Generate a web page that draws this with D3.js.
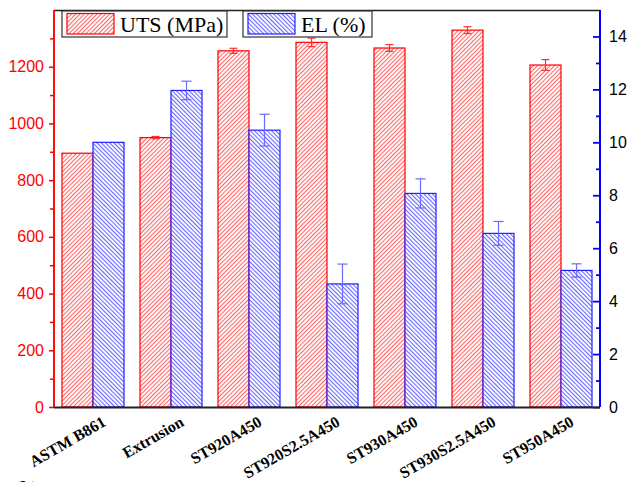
<!DOCTYPE html>
<html>
<head>
<meta charset="utf-8">
<script src="https://cdn.jsdelivr.net/npm/d3@7"></script>
<style>
  body { margin: 0; background: #fff; }
  svg { display: block; }
</style>
</head>
<body>
<div id="chart"></div>
<script>
'use strict'

var categories = ["ASTM B861", "Extrusion", "ST920A450", "ST920S2.5A450", "ST930A450", "ST930S2.5A450", "ST950A450"];
var uts = [895, 950, 1256, 1286, 1266, 1329, 1206];
var utsErr = [0, 4, 9, 15, 12, 12, 19];
var el = [10, 11.96, 10.46, 4.65, 8.07, 6.56, 5.16];
var elErr = [0, 0.35, 0.6, 0.75, 0.55, 0.45, 0.25];
var leftTicks = [0, 200, 400, 600, 800, 1000, 1200];
var rightTicks = [0, 2, 4, 6, 8, 10, 12, 14];

var width = 628, height = 482;
var plotLeft = 54, plotRight = 600, plotTop = 10, plotBottom = 407;

var svg = d3.select("#chart").append("svg").attr("width", width).attr("height", height);

// hatch patterns
var defs = svg.append("defs");
function hatch(id, color, angle) {
    var p = defs.append("pattern")
        .attr("id", id)
        .attr("patternUnits", "userSpaceOnUse")
        .attr("width", 3).attr("height", 10)
        .attr("patternTransform", "rotate(" + angle + ")");
    p.append("rect").attr("width", 3).attr("height", 10).attr("fill", "#fff");
    p.append("line").attr("x1", 0.6).attr("x2", 0.6).attr("y1", 0).attr("y2", 10)
        .attr("stroke", color).attr("stroke-width", 0.8);
}
hatch("hRed", "#ff3030", 45);
hatch("hBlue", "#3030ff", -45);

var x = d3.scaleBand().domain(categories).range([plotLeft, plotRight]).paddingInner(0.205).paddingOuter(0.1025);
var x1 = d3.scaleBand().domain([0, 1]).range([0, x.bandwidth()]);
var yL = d3.scaleLinear().domain([0, 1400]).range([plotBottom, plotTop]);
var yR = d3.scaleLinear().domain([0, 15]).range([plotBottom, plotTop]);

var series = [
    {vals: uts, errs: utsErr, y: yL, fill: "url(#hRed)", stroke: "#ff0000", err: "#ff3030"},
    {vals: el, errs: elErr, y: yR, fill: "url(#hBlue)", stroke: "#2020ff", err: "#6a6aff"}
];

series.forEach(function (s, si) {
    var g = svg.append("g");
    g.selectAll("rect").data(categories).enter().append("rect")
        .attr("x", function (d) { return x(d) + x1(si); })
        .attr("width", x1.bandwidth())
        .attr("y", function (d, i) { return s.y(s.vals[i]); })
        .attr("height", function (d, i) { return plotBottom - s.y(s.vals[i]); })
        .attr("fill", s.fill)
        .attr("stroke", s.stroke)
        .attr("stroke-width", 1.2);
});

// error bars
series.forEach(function (s, si) {
    var g = svg.append("g").attr("stroke", s.err).attr("stroke-width", 1.2).attr("fill", "none");
    categories.forEach(function (c, i) {
        if (!s.errs[i]) return;
        var cx = x(c) + x1(si) + x1.bandwidth() / 2;
        var y0 = s.y(s.vals[i] - s.errs[i]), y1 = s.y(s.vals[i] + s.errs[i]);
        var w = si === 0 ? 4 : 5;
        g.append("line").attr("x1", cx).attr("x2", cx).attr("y1", y0).attr("y2", y1);
        g.append("line").attr("x1", cx - w).attr("x2", cx + w).attr("y1", y0).attr("y2", y0);
        g.append("line").attr("x1", cx - w).attr("x2", cx + w).attr("y1", y1).attr("y2", y1);
    });
});

// frame top
svg.append("line").attr("x1", plotLeft).attr("x2", plotRight).attr("y1", plotTop + 0.5).attr("y2", plotTop + 0.5)
    .attr("stroke", "#222").attr("stroke-width", 1.5);

// left axis
var axL = svg.append("g").attr("transform", "translate(" + plotLeft + ",0)")
    .call(d3.axisLeft(yL).tickValues(leftTicks).tickSize(5).tickPadding(5).tickFormat(d3.format("d")));
axL.append("g").call(d3.axisLeft(yL).tickValues(d3.range(100, 1400, 200)).tickSize(4).tickFormat(""));
axL.selectAll("path").attr("stroke", "#ff0000").attr("stroke-width", 1.5);
axL.selectAll("line").attr("stroke", "#ff0000").attr("stroke-width", 1.5);
axL.selectAll("text").attr("fill", "#ff0000").style("font", "16px 'Liberation Sans', Arial, sans-serif");
axL.selectAll(".domain").attr("d", "M0," + plotBottom + "V" + plotTop);

// right axis
var axR = svg.append("g").attr("transform", "translate(" + plotRight + ",0)")
    .call(d3.axisRight(yR).tickValues(rightTicks).tickSize(-7).tickPadding(9));
axR.append("g").call(d3.axisRight(yR).tickValues(d3.range(1, 15, 2)).tickSize(-4).tickFormat(""));
axR.selectAll("path").attr("stroke", "#0000ff").attr("stroke-width", 2);
axR.selectAll("line").attr("stroke", "#0000ff").attr("stroke-width", 1.8);
axR.selectAll("text").attr("fill", "#000").style("font", "16px 'Liberation Sans', Arial, sans-serif");
axR.selectAll(".domain").attr("d", "M0," + plotBottom + "V" + plotTop);

// bottom axis
svg.append("line").attr("x1", plotLeft).attr("x2", plotRight).attr("y1", plotBottom + 0.5).attr("y2", plotBottom + 0.5)
    .attr("stroke", "#222").attr("stroke-width", 2.2);

svg.append("g").selectAll("text").data(categories).enter().append("text")
    .attr("transform", function (d) {
        return "translate(" + (x(d) + x.bandwidth() / 2 + 14) + "," + (plotBottom + 18) + ") rotate(-30)";
    })
    .attr("text-anchor", "end")
    .style("font", "bold 16px 'Liberation Serif', 'Times New Roman', serif")
    .text(function (d) { return d; });

// legend
var legend = [
    {label: "UTS (MPa)", fill: "url(#hRed)", stroke: "#ff0000", x0: 62, x1: 227},
    {label: "EL (%)", fill: "url(#hBlue)", stroke: "#2020ff", x0: 243, x1: 372}
];
legend.forEach(function (l) {
    var g = svg.append("g");
    g.append("rect").attr("x", l.x0).attr("y", 11).attr("width", l.x1 - l.x0).attr("height", 26)
        .attr("fill", "#fff").attr("stroke", "#333").attr("stroke-width", 1.2);
    g.append("rect").attr("x", l.x0 + 5).attr("y", 13.5).attr("width", 47).attr("height", 20.5)
        .attr("fill", l.fill).attr("stroke", l.stroke).attr("stroke-width", 1.2);
    g.append("text").attr("x", l.x0 + 58).attr("y", 31.5)
        .style("font", "22px 'Liberation Serif', 'Times New Roman', serif")
        .text(l.label);
});

svg.append("text").attr("x", 14).attr("y", 496)
    .style("font", "bold 20px 'Liberation Serif', 'Times New Roman', serif")
    .text("(b)");
</script>
</body>
</html>
